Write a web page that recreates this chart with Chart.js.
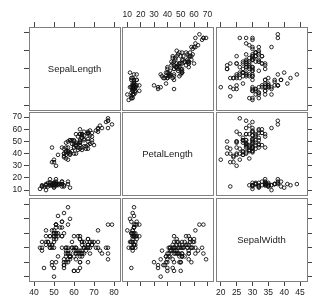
<!DOCTYPE html>
<html>
<head>
<meta charset="utf-8">
<script src="https://cdn.jsdelivr.net/npm/chart.js@4/dist/chart.umd.min.js"></script>
<style>
  html, body { margin: 0; padding: 0; background: #fff; overflow: hidden; }
  #wrap { position: relative; width: 314px; height: 298px; overflow: hidden; }
  .cell { position: absolute; }
  .varname {
    position: absolute; display: flex; align-items: center; justify-content: center;
    font: 9.5px "Liberation Sans", Arial, sans-serif; color: #222; pointer-events: none;
  }
</style>
</head>
<body>
<div id="wrap"></div>
<script>
(() => {
  "use strict";

// iris, values in mm
const varNames = ["SepalLength", "PetalLength", "SepalWidth"];

const sepalLength = [
  51,49,47,46,50,54,46,50,44,49,54,48,48,43,58,57,54,51,57,51,54,51,46,51,48,50,50,52,52,47,48,54,52,55,49,50,55,49,44,51,50,45,44,50,51,48,51,46,53,50,
  70,64,69,55,65,57,63,49,66,52,50,59,60,61,56,67,56,58,62,56,59,61,63,61,64,66,68,67,60,57,55,55,58,60,54,60,67,63,56,55,55,61,58,50,56,57,57,62,51,57,
  63,58,71,63,65,76,49,73,67,72,65,64,68,57,58,64,65,77,77,60,69,56,77,63,67,72,62,61,64,72,74,79,64,63,61,77,63,64,60,69,67,69,58,68,67,67,63,65,62,59
];
const petalLength = [
  14,14,13,15,14,17,14,15,14,15,15,16,14,11,12,15,13,14,17,15,17,15,10,17,19,16,16,15,14,16,16,15,15,14,15,12,13,14,13,15,13,13,13,16,19,14,16,14,15,14,
  47,45,49,40,46,45,47,33,46,39,35,42,40,47,36,44,45,41,45,39,48,40,49,47,43,44,48,50,45,35,38,37,39,51,45,45,47,44,41,40,44,46,40,33,42,42,42,43,30,41,
  60,51,59,56,58,66,45,63,58,61,51,53,55,50,51,53,55,67,69,50,57,49,67,49,57,60,48,49,56,58,61,64,56,51,56,61,56,55,48,54,56,51,51,59,57,52,50,52,54,51
];
const sepalWidth = [
  35,30,32,31,36,39,34,34,29,31,37,34,30,30,40,44,39,35,38,38,34,37,36,33,34,30,34,35,34,32,31,34,41,42,31,32,35,36,30,34,35,23,32,35,38,30,38,32,37,33,
  32,32,31,23,28,28,33,24,29,27,20,30,22,29,29,31,30,27,22,25,32,28,25,28,29,30,28,30,29,26,24,24,27,27,30,34,31,23,30,25,26,30,26,23,27,30,29,29,25,28,
  33,27,30,29,30,30,25,29,25,36,32,27,30,25,28,32,30,38,26,22,32,28,28,27,33,32,28,30,28,30,28,38,28,28,26,30,34,31,30,31,31,31,27,32,33,30,25,30,34,30
];

const ticksSepalLength = [40, 50, 60, 70, 80];
const ticksPetalLength = [10, 20, 30, 40, 50, 60, 70];
const ticksSepalWidth = [20, 25, 30, 35, 40, 45];

// axis limits as drawn in the picture
const rangeSepalLength = [37.5, 83];
const rangePetalLength = [6, 74.2];
const rangeSepalWidth = [18.5, 47.2];

const vars = [
  { name: varNames[0], values: sepalLength, ticks: ticksSepalLength, range: rangeSepalLength },
  { name: varNames[1], values: petalLength, ticks: ticksPetalLength, range: rangePetalLength },
  { name: varNames[2], values: sepalWidth, ticks: ticksSepalWidth, range: rangeSepalWidth },
];

// panel boxes
const colX = [29, 122, 216];
const rowY = [27, 112, 198];
const PW = 91, PH = 83;
const M = 24;
const FONT = "'Liberation Sans', Arial, sans-serif";

function axis(v, position, marks, labels) {
  return {
    type: "linear",
    position,
    min: v.range[0],
    max: v.range[1],
    afterBuildTicks: (s) => { s.ticks = v.ticks.map(t => ({ value: t })); },
    afterFit: (s) => { if (s.isHorizontal()) s.height = M; else s.width = M; },
    grid: { display: marks, drawOnChartArea: false, drawTicks: marks, tickLength: 5, color: "#444" },
    border: { display: true, color: "#808080", width: 1 },
    ticks: {
      display: labels, autoSkip: false, maxRotation: 0, minRotation: 0, padding: 2,
      color: "#222", font: { family: FONT, size: 8.5 },
      callback: (val) => String(val)
    }
  };
}

const wrap = document.getElementById("wrap");

for (let r = 0; r < 3; r++) {
  for (let c = 0; c < 3; c++) {
    const xv = vars[c], yv = vars[r];

    const cell = document.createElement("div");
    cell.className = "cell";
    cell.style.left = (colX[c] - M) + "px";
    cell.style.top = (rowY[r] - M) + "px";
    const canvas = document.createElement("canvas");
    canvas.width = PW + 2 * M;
    canvas.height = PH + 2 * M;
    cell.appendChild(canvas);
    wrap.appendChild(cell);

    const points = r === c ? [] : xv.values.map((x, i) => ({ x, y: yv.values[i] }));

    new Chart(canvas, {
      type: "scatter",
      data: {
        datasets: [{
          data: points,
          xAxisID: "x",
          yAxisID: "y",
          pointStyle: "circle",
          pointRadius: 1.8,
          pointBorderWidth: 0.9,
          pointBorderColor: "#111",
          pointBackgroundColor: "rgba(0,0,0,0)"
        }]
      },
      options: {
        responsive: false,
        animation: false,
        events: [],
        layout: { padding: 0 },
        plugins: { legend: { display: false }, tooltip: { enabled: false } },
        scales: {
          x: axis(xv, "bottom", r === 2, r === 2 && c !== 1),
          xTop: axis(xv, "top", r === 0, r === 0 && c === 1),
          y: axis(yv, "left", c === 0, c === 0 && r === 1),
          yRight: axis(yv, "right", c === 2, c === 2 && r !== 1)
        }
      }
    });

    if (r === c) {
      const lab = document.createElement("div");
      lab.className = "varname";
      lab.style.left = colX[c] + "px";
      lab.style.top = rowY[r] + "px";
      lab.style.width = PW + "px";
      lab.style.height = PH + "px";
      lab.textContent = xv.name;
      wrap.appendChild(lab);
    }
  }
}
})();
</script>
</body>
</html>
